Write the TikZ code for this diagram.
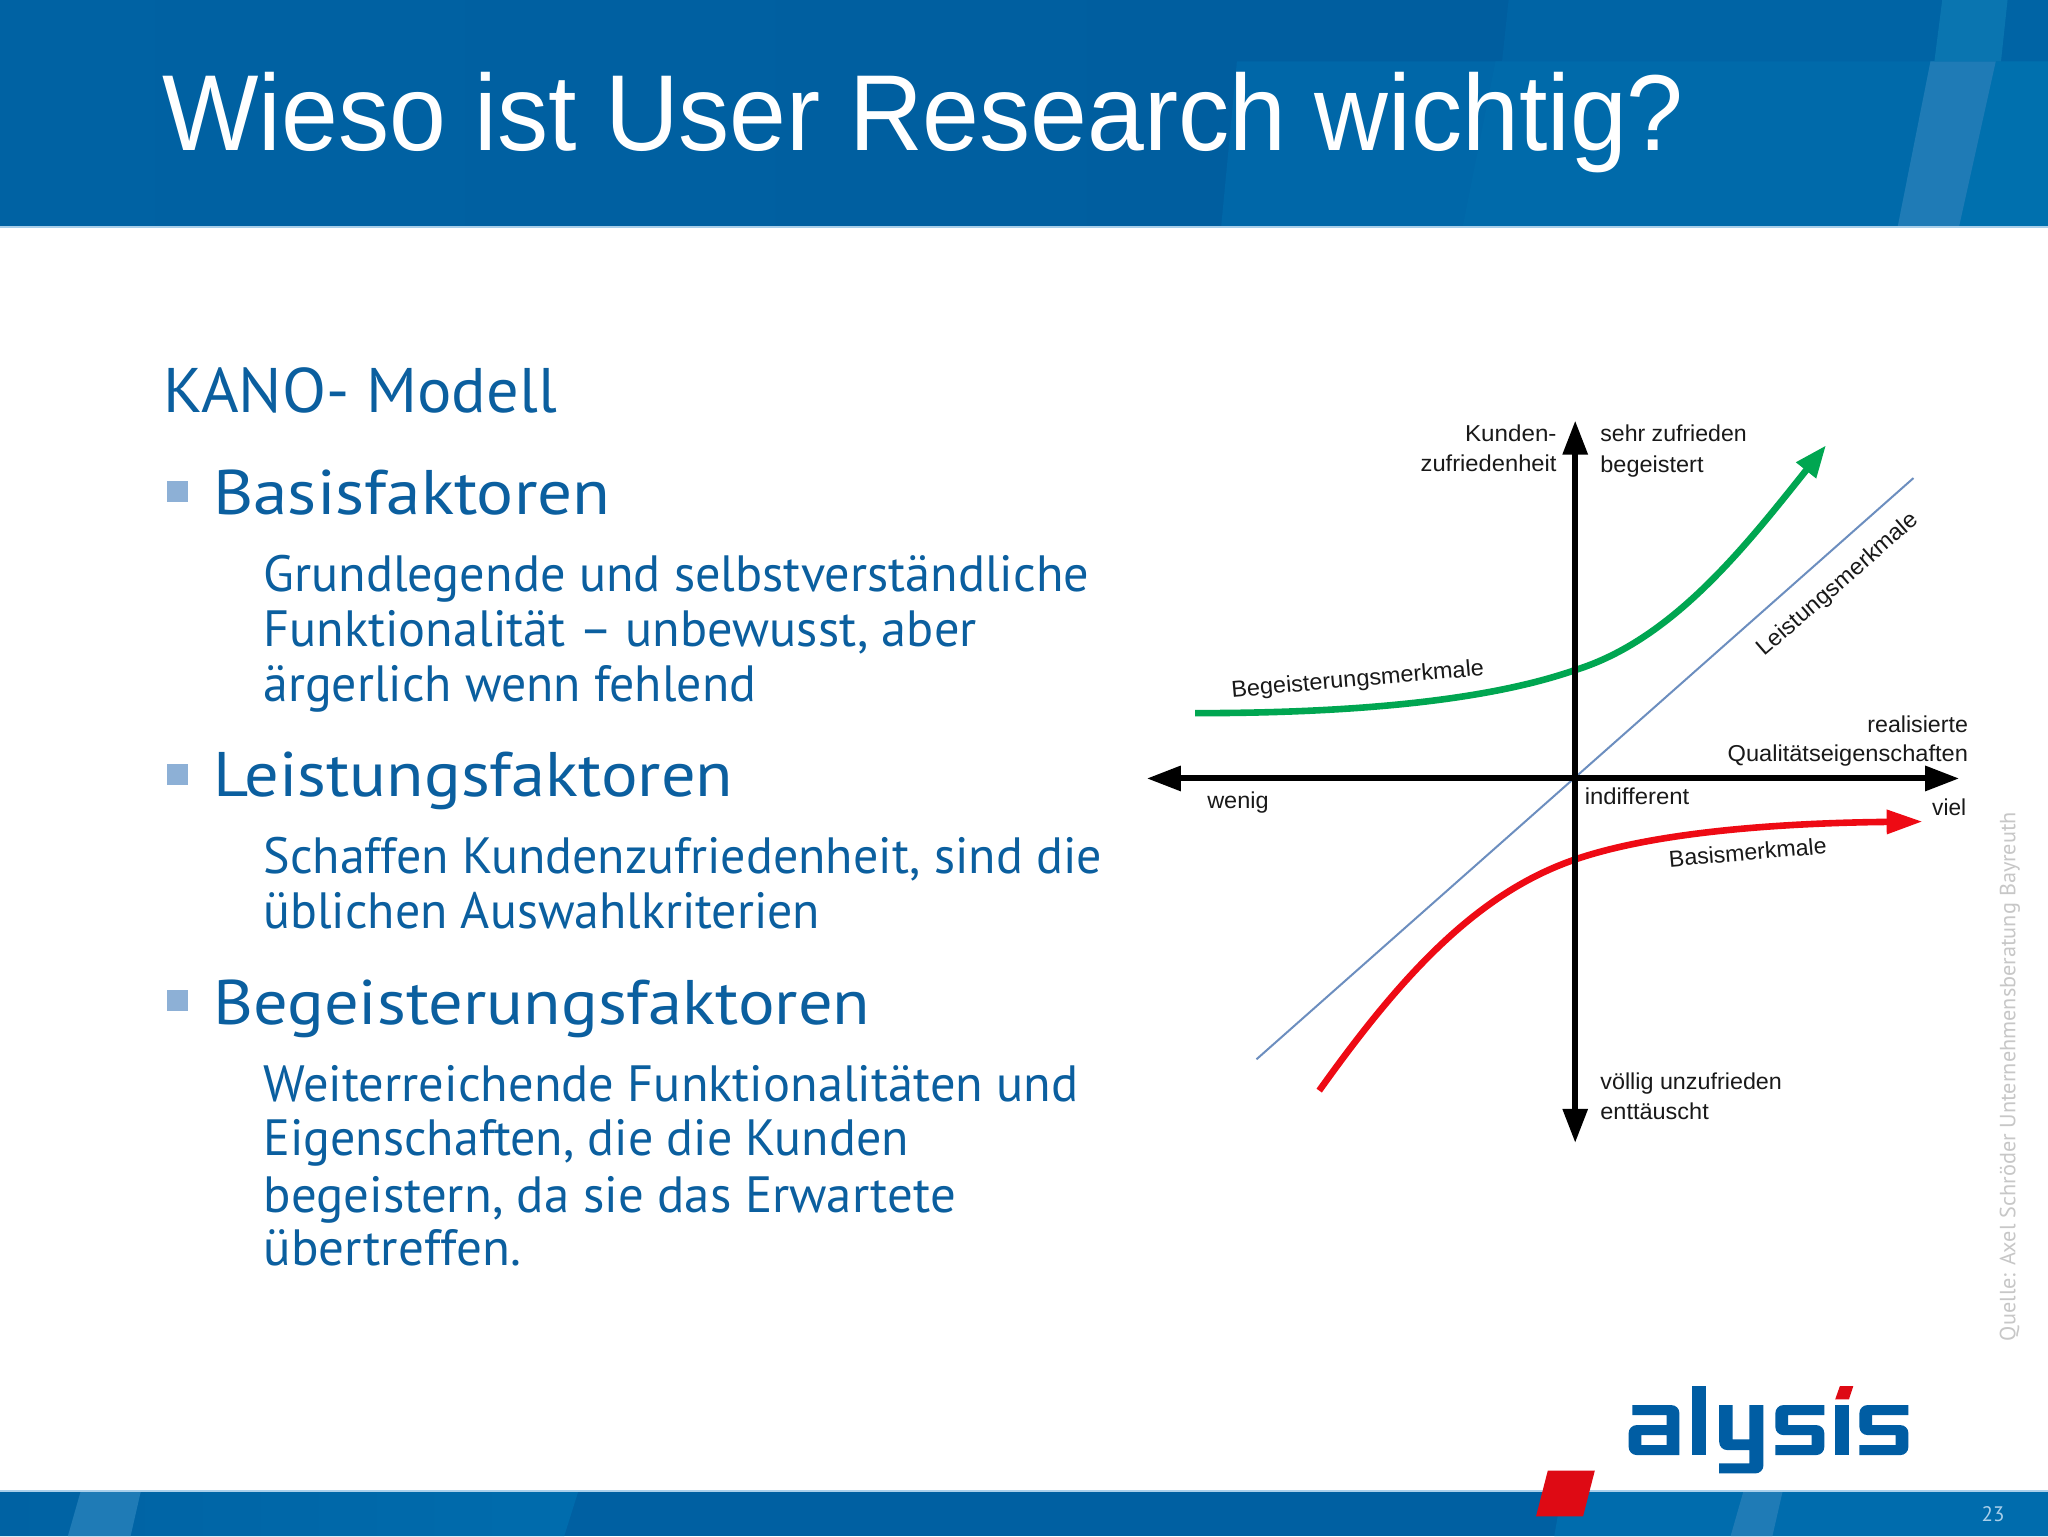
\documentclass[tikz,border=0pt]{standalone}
\usepackage{fontspec}
\usepackage{graphicx}
\setmainfont{Liberation Sans}
\newfontfamily\bodyfont{PT Sans}
\usetikzlibrary{arrows.meta}
\newlength{\ul}\setlength{\ul}{0.65306pt}
\definecolor{bandL}{HTML}{0062A3}
\definecolor{bandM}{HTML}{005E9F}
\definecolor{paneA}{HTML}{0067A8}
\definecolor{paneB}{HTML}{006AAA}
\definecolor{paneC}{HTML}{0064A5}
\definecolor{paneD}{HTML}{0070AE}
\definecolor{stripc}{HTML}{1F7BB6}
\definecolor{stripd}{HTML}{0A75B0}
\definecolor{footL}{HTML}{006CAD}
\definecolor{footM}{HTML}{0060A2}
\definecolor{hairline}{HTML}{A9CFEA}
\definecolor{bodyblue}{HTML}{0B5F9F}
\definecolor{logoblue}{HTML}{005DA3}
\definecolor{logored}{HTML}{DE0A14}
\definecolor{chartgreen}{HTML}{00A651}
\definecolor{chartred}{HTML}{EE0A14}
\definecolor{chartblue}{HTML}{6C8EBF}
\definecolor{bullet}{HTML}{8DB0D6}
\tikzset{
  txt/.style={inner sep=0pt,anchor=base west},
  txtr/.style={inner sep=0pt,anchor=base east},
  axis/.style={line width=3pt,black,{Triangle[length=17pt,width=12pt]}-{Triangle[length=17pt,width=12pt]}},
  curve/.style={line width=3.3pt},
  chartlabel/.style={font=\fontsize{11.5pt}{13pt}\selectfont,text=black!90},
  bodyline/.style={font=\bodyfont\fontsize{25.5pt}{28pt}\selectfont,text=bodyblue},
  headline/.style={font=\bodyfont\fontsize{31.5pt}{34pt}\selectfont,text=bodyblue},
  logo/.style={draw=none,fill=logoblue},
}
% name, x, y, width, text, style
\newcommand{\tl}[6]{\node[txt,#6] (#1) at (#2,#3) {\resizebox{#4\ul}{\height}{#5}};}
\newcommand{\tr}[6]{\node[txtr,#6] (#1) at (#2,#3) {\resizebox{#4\ul}{\height}{#5}};}
\newcommand{\logoS}{%
  \fill[logo] (950,135) [rounded corners=4pt] -- (815,135) -- (815,225) [sharp corners] -- (915,225) -- (915,255) -- (815,255) -- (815,285) [rounded corners=4pt] -- (950,285) -- (950,195) [sharp corners] -- (850,195) -- (850,165) -- (950,165) -- cycle;}
\begin{document}
\begin{tikzpicture}[x=\ul,y=-\ul]
\useasboundingbox (0,0) rectangle (1568,1176);
\fill[white] (0,0) rectangle (1568,1176);
% header
\shade[left color=bandL,right color=bandM,draw=none] (0,0) rectangle (950,173);
\fill[bandM] (950,0) rectangle (1568,173);
\fill[paneC] (1155,0) -- (1150,47) -- (1568,47) -- (1568,0) -- cycle;
\fill[paneA] (947,47) -- (1568,47) -- (1568,173) -- (935,173) -- cycle;
\fill[paneB] (1145,47) -- (1568,47) -- (1568,173) -- (1120,173) -- cycle;
\fill[paneD] (1478,47) -- (1568,47) -- (1568,173) -- (1453,173) -- cycle;
\fill[stripc] (1478,47) -- (1528,47) -- (1500,173) -- (1453,173) -- cycle;
\fill[stripd] (1487,0) -- (1537,0) -- (1532,47) -- (1481,47) -- cycle;
\fill[hairline] (0,173) rectangle (1568,174.5);
% footer
\fill[footM] (0,1141) rectangle (1568,1176);
\shade[left color=bandL,right color=footL,draw=none] (0,1141) -- (443,1141) -- (432,1176) -- (0,1176) -- cycle;
\fill[footL] (1196,1141) -- (1568,1141) -- (1568,1176) -- (1190,1176) -- cycle;
\fill[stripc] (1335,1141) -- (1365,1141) -- (1357,1176) -- (1325,1176) -- cycle;
\fill[stripc] (62,1141) -- (108,1141) -- (100,1176) -- (52,1176) -- cycle;
\fill[hairline] (0,1140.5) rectangle (1568,1142);
\fill[logored] (1185,1126) -- (1221,1126) -- (1212,1161) -- (1176,1161) -- cycle;
% title
\tl{title}{124}{115}{1165}{Wieso ist User Research wichtig?}{font=\fontsize{54pt}{60pt}\selectfont,text=white}
% body text
\tl{kano}{125}{315.5}{301}{KANO- Modell}{headline}
\fill[bullet] (128,368) rectangle (144,384);
\tl{h1}{163}{394}{304}{Basisfaktoren}{headline}
\tl{b11}{201.5}{453}{632}{Grundlegende und selbstverständliche}{bodyline}
\tl{b12}{201.5}{495}{546}{Funktionalität – unbewusst, aber}{bodyline}
\tl{b13}{201.5}{537}{377}{ärgerlich wenn fehlend}{bodyline}
\fill[bullet] (128,585) rectangle (144,601);
\tl{h2}{163}{610}{398}{Leistungsfaktoren}{headline}
\tl{b21}{201.5}{669}{642}{Schaffen Kundenzufriedenheit, sind die}{bodyline}
\tl{b22}{201.5}{711}{426}{üblichen Auswahlkriterien}{bodyline}
\fill[bullet] (128,758) rectangle (144,774);
\tl{h3}{163}{784}{503}{Begeisterungsfaktoren}{headline}
\tl{b31}{201.5}{843}{624}{Weiterreichende Funktionalitäten und}{bodyline}
\tl{b32}{201.5}{885}{494}{Eigenschaften, die die Kunden}{bodyline}
\tl{b33}{201.5}{928}{530}{begeistern, da sie das Erwartete}{bodyline}
\tl{b34}{201.5}{969}{197}{übertreffen.}{bodyline}
% chart coordinates
\coordinate (xl) at (878,596);
\coordinate (xr) at (1500,596);
\coordinate (yt) at (1206,322);
\coordinate (yb) at (1206,875);
\coordinate (gs) at (915,546);
\coordinate (gm) at (1206,513);
\coordinate (ge) at (1398,341);
\coordinate (rs) at (1010,835);
\coordinate (rm) at (1206,658);
\coordinate (re) at (1472,629);
\coordinate (ls) at (962,811);
\coordinate (le) at (1465,366);
\draw[line width=1pt,chartblue] (ls) -- (le);
\draw[curve,chartgreen,-{Triangle[length=16pt,width=12pt]}] (gs) .. controls (1040,546) and (1140,536) .. (gm) .. controls (1280,490) and (1335,420) .. (ge);
\draw[curve,chartred,-{Triangle[length=18pt,width=11.5pt]}] (rs) .. controls (1072,748) and (1130,684) .. (rm) .. controls (1270,636) and (1370,630) .. (re);
\draw[axis] (xl) -- (xr);
\draw[axis] (yt) -- (yb);
% chart labels
\tr{k1}{1192}{338}{70}{Kunden-}{chartlabel}
\tr{k2}{1192}{361}{104}{zufriedenheit}{chartlabel}
\tl{s1}{1225}{338}{112}{sehr zufrieden}{chartlabel}
\tl{s2}{1225}{362}{79}{begeistert}{chartlabel}
\tl{bm}{943}{534}{194}{Begeisterungsmerkmale}{chartlabel,rotate=5}
\tl{lm}{1351}{503}{157}{Leistungsmerkmale}{chartlabel,rotate=41}
\tr{q1}{1507}{561}{77}{realisierte}{chartlabel}
\tr{q2}{1507}{583}{184}{Qualitätseigenschaften}{chartlabel}
\tl{w}{924}{619}{47}{wenig}{chartlabel}
\tl{ind}{1213}{616}{80}{indifferent}{chartlabel}
\tl{v}{1479}{624}{26}{viel}{chartlabel}
\tl{ba}{1278}{664}{121}{Basismerkmale}{chartlabel,rotate=5}
\tl{u1}{1225}{834}{139}{völlig unzufrieden}{chartlabel}
\tl{u2}{1225}{857}{83}{enttäuscht}{chartlabel}
% source
\node[inner sep=0pt,anchor=base west,rotate=90,text=black!22,font=\bodyfont\fontsize{11pt}{13pt}\selectfont] (src) at (1543,1027) {\resizebox{405\ul}{\height}{Quelle: Axel Schröder Unternehmensberatung Bayreuth}};
% page number
\node[inner sep=0pt,anchor=base,text=hairline,font=\bodyfont\fontsize{10.5pt}{11pt}\selectfont] (pg) at (1526,1165) {23};
% logo
\begin{scope}[shift={(1133.2,1041.3)},x=0.2774\ul,y=-0.2552\ul]
  \fill[logo,even odd rule] (420,135) [rounded corners=4pt] -- (550,135) [sharp corners] -- (550,285) [rounded corners=4pt] -- (410,285) -- (410,195) [sharp corners] -- (515,195) -- (515,165) -- (420,165) -- cycle (445,225) rectangle (515,255);
  \fill[logo] (585,78) rectangle (623,285);
  \fill[logo] (660,135) -- (697,135) -- (697,238) -- (743,238) -- (743,135) -- (782,135) [rounded corners=4pt] -- (782,340) [sharp corners] -- (660,340) -- (660,310) -- (743,310) -- (743,270) [rounded corners=4pt] -- (660,270) [sharp corners] -- cycle;
  \logoS
  \fill[logo] (980,135) rectangle (1017,285);
  \fill[logored] (993,78) -- (1030,78) -- (1018,118) -- (980,118) -- cycle;
  \begin{scope}[shift={(232,0)}]
    \logoS
  \end{scope}
\end{scope}
\end{tikzpicture}
\end{document}
